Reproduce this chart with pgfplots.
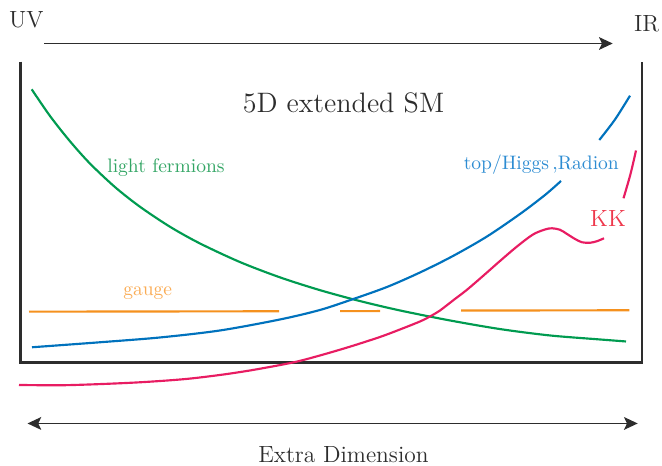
\documentclass[border=0pt]{standalone}
\usepackage{pgfplots}
\pgfplotsset{compat=1.18}
\usetikzlibrary{arrows.meta}

\definecolor{cgreen}{RGB}{0,155,80}
\definecolor{cblue}{RGB}{0,114,189}
\definecolor{cred}{RGB}{232,28,98}
\definecolor{corange}{RGB}{245,145,30}
\definecolor{tgreen}{RGB}{50,165,100}
\definecolor{tblue}{RGB}{45,140,210}
\definecolor{tred}{RGB}{238,55,75}
\definecolor{torange}{RGB}{250,172,85}
\definecolor{cbox}{RGB}{45,45,45}

\begin{document}
\begin{tikzpicture}
  \begin{axis}[
    name=ax,
    scale only axis,
    width=339pt, height=238.6pt,
    xmin=0, xmax=662,
    ymin=0, ymax=466,
    y dir=reverse,
    hide axis,
    clip=false,
  ]

  % frame (open at the top)
  \addplot[cbox, line width=1.3pt] coordinates {(20.5,61.7)(20.5,362.7)(641.8,362.7)(641.8,61.7)};

  % UV -> IR arrow and the extra dimension arrow
  \addplot[cbox, line width=0.9pt, -{Stealth[length=7pt,width=6.5pt,inset=1.5pt]}]
    coordinates {(44,43.5)(612.7,43.5)};
  \addplot[cbox, line width=0.9pt, {Stealth[length=7pt,width=6.5pt,inset=1.5pt]}-{Stealth[length=7pt,width=6.5pt,inset=1.5pt]}]
    coordinates {(27.5,423.5)(637.7,423.5)};

  % light fermions
  \addplot[cgreen, line width=1.1pt, smooth] coordinates {
    (31.7,89.3)(50,116)(70,141.3)(90,163.6)(115,187.1)(140,206.8)(170,226.8)
    (200,243.5)(240,262.1)(280,277.4)(320,290.2)(360,301.1)(400,310.5)
    (450,320.5)(500,329.1)(550,335.5)(600,339.5)(626,341.5)
  };

  % top/Higgs, Radion
  \addplot[cblue, line width=1.1pt, smooth] coordinates {
    (32,347.3)(100,342.3)(160,337.5)(220,330.5)(280,319.5)(320,310)(352,299.5)
    (387,287)(420,272.5)(453,256)(487,236.5)(520,214)(545,195)(561,181)
  };
  \addplot[cblue, line width=1.1pt, smooth] coordinates {
    (599.3,140)(615,119.5)(630,95.7)
  };

  % KK
  \addplot[cred, line width=1.1pt, smooth] coordinates {
    (19,385)(67,385.2)(133,382.7)(183,379.3)(220,375)(253,370)(293,362.5)
    (320,355.5)(350,346.7)(380,337)(400,329.5)(420,321.5)(430,316.5)(440,310.5)
    (453,300.5)(466.7,290)(483,276)(500,261)(517,246.5)(533,234.5)(545,229.5)
    (552,228.3)(560,229.8)(567,234)(575,239)(582,242.3)(590,242.8)(597,241.2)(604,238.3)
  };
  \addplot[cred, line width=1.1pt, smooth] coordinates {
    (623.5,198.3)(630.5,174)(636,150.5)
  };

  % gauge
  \addplot[corange, line width=1.1pt] coordinates {(29,311.7)(279,311.3)};
  \addplot[corange, line width=1.1pt] coordinates {(340,311.2)(380,311.1)};
  \addplot[corange, line width=1.1pt] coordinates {(461,310.6)(629.3,310.3)};

  % labels (placed at their baselines)
  \node[cbox, font=\large, inner sep=0pt, anchor=base] at (axis cs:26.3,28) {UV};
  \node[cbox, font=\large, inner sep=0pt, anchor=base] at (axis cs:646.7,31.5) {IR};
  \node[cbox, font=\Large, inner sep=0pt, anchor=base] at (axis cs:343.5,113) {5D extended SM};
  \node[tgreen, inner sep=0pt, anchor=base] at (axis cs:166,173) {light fermions};
  \node[tblue, inner sep=0pt, anchor=base] at (axis cs:541.3,170) {top/Higgs\,,Radion};
  \node[tred, font=\large, inner sep=0pt, anchor=base] at (axis cs:608,226.7) {KK};
  \node[torange, inner sep=0pt, anchor=base] at (axis cs:147.7,295.5) {gauge};
  \node[cbox, font=\large, inner sep=0pt, anchor=base] at (axis cs:343.5,463) {Extra Dimension};

  \end{axis}
  \pgfresetboundingbox
  \path (ax.south west) rectangle (ax.north east);
\end{tikzpicture}
\end{document}
